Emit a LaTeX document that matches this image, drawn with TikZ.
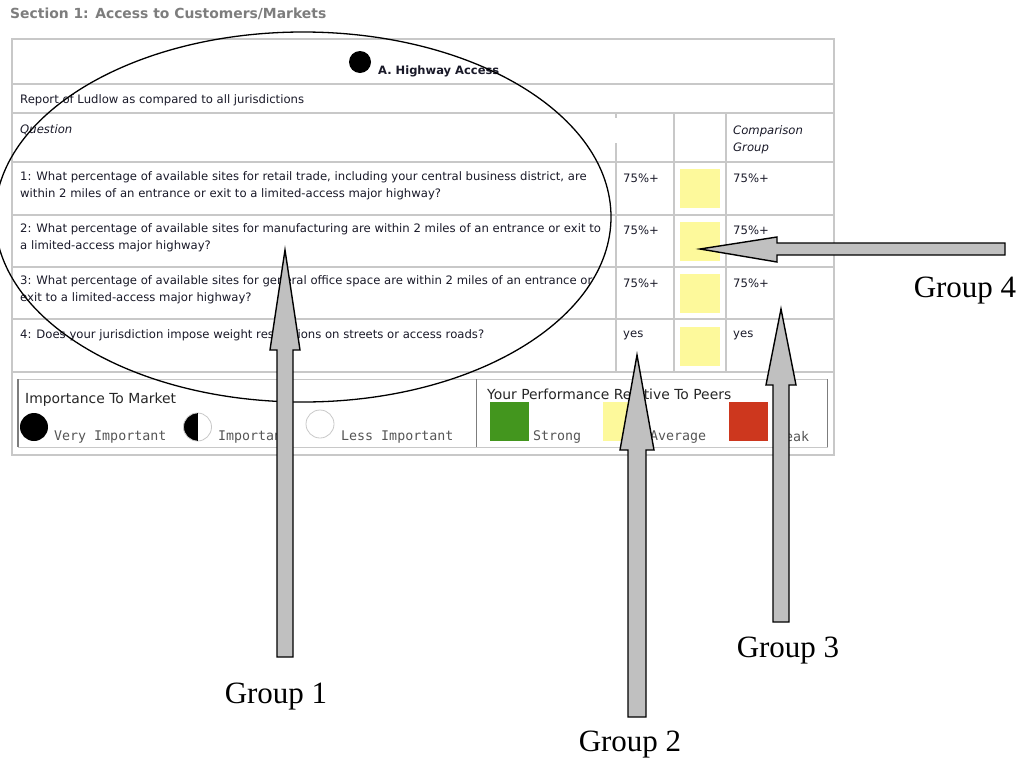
\documentclass[tikz,border=0pt]{standalone}
\usepackage{fontspec}
\setmainfont{DejaVu Sans}
\newfontfamily\grpfont{Liberation Serif}
\newfontfamily\legfont{DejaVu Sans Mono}
\usepackage{tikz}
\usetikzlibrary{positioning}

\definecolor{gridgray}{RGB}{200,200,200}
\definecolor{legline}{RGB}{125,125,125}
\definecolor{avgyellow}{RGB}{253,249,155}
\definecolor{stronggreen}{RGB}{67,150,30}
\definecolor{weakred}{RGB}{205,55,30}
\definecolor{arrowgray}{RGB}{192,192,192}
\definecolor{titlegray}{RGB}{125,125,125}
\definecolor{inktext}{RGB}{25,25,40}
\definecolor{legtext}{RGB}{85,85,85}

\begin{document}
\begin{tikzpicture}[x=1pt, y=-1pt,
    grid/.style={draw=gridgray, line width=1.5pt},
    txt/.style={anchor=west, inner sep=0pt, align=left, text=inktext, font=\fontsize{11.65}{17}\selectfont},
    itxt/.style={txt, font=\fontsize{11.65}{17}\selectfont\itshape},
    legtxt/.style={anchor=west, inner sep=0pt, text=legtext, font=\legfont\fontsize{13.3}{15}\selectfont},
    legtitle/.style={anchor=west, inner sep=0pt, text=black!85, font=\fontsize{13.9}{15}\selectfont},
    swatch/.style={minimum width=39pt, minimum height=39pt, inner sep=0pt},
    grp/.style={inner sep=0pt, font=\grpfont\fontsize{31}{31}\selectfont},
    blockarrow/.style={fill=arrowgray, draw=black, line width=1.4pt, line join=miter}]
    \useasboundingbox (0,0) rectangle (1023,761);

    % title
    \node[anchor=west, inner sep=0pt, text=titlegray, font=\fontsize{13.9}{15}\selectfont\bfseries] at (10,14) (title) {Section 1: Access to Customers/Markets};

    % table grid
    \draw[grid] (12,39) rectangle (834,455);
    \foreach \y in {84, 113, 162, 215, 267, 319, 372}
        \draw[grid] (12,\y) -- (834,\y);
    \draw[grid] (616,143) -- (616,372);
    \draw[grid] (616,113) -- (616,118);
    \draw[grid] (674,113) -- (674,372);
    \draw[grid] (726,113) -- (726,372);

    % header
    \fill[black] (360,62) circle (11pt);
    \node[anchor=west, inner sep=0pt, text=inktext, font=\fontsize{11.5}{13}\selectfont\bfseries] at (378,71) (head) {A. Highway Access};
    \node[txt] at (20,100) (report) {Report of Ludlow as compared to all jurisdictions};
    \node[itxt] at (20,130) (quest) {Question};
    \node[itxt] at (733,139.5) (comp) {Comparison\\Group};

    % questions
    \node[txt] at (20,185.5) (q1) {1: What percentage of available sites for retail trade, including your central business district, are\\within 2 miles of an entrance or exit to a limited-access major highway?};
    \node[txt] at (20,237.5) (q2) {2: What percentage of available sites for manufacturing are within 2 miles of an entrance or exit to\\a limited-access major highway?};
    \node[txt] at (20,289.5) (q3) {3: What percentage of available sites for general office space are within 2 miles of an entrance or\\exit to a limited-access major highway?};
    \node[txt] at (20,335) (q4) {4: Does your jurisdiction impose weight restrictions on streets or access roads?};

    % answers
    \node[txt] at (623,178) (a1) {75\%+};
    \node[txt] at (623,230) (a2) {75\%+};
    \node[txt] at (623,283) (a3) {75\%+};
    \node[txt] at (623,335) (a4) {yes};
    \node[fill=avgyellow, minimum width=40pt, minimum height=39pt, inner sep=0pt] at (700,188.5) (y1) {};
    \node[fill=avgyellow, minimum width=40pt, minimum height=39pt, inner sep=0pt] at (700,241) (y2) {};
    \node[fill=avgyellow, minimum width=40pt, minimum height=39pt, inner sep=0pt] at (700,293.5) (y3) {};
    \node[fill=avgyellow, minimum width=40pt, minimum height=39pt, inner sep=0pt] at (700,346) (y4) {};
    \node[txt] at (733,178) (c1) {75\%+};
    \node[txt] at (733,230) (c2) {75\%+};
    \node[txt] at (733,283) (c3) {75\%+};
    \node[txt] at (733,335) (c4) {yes};

    % legend
    \draw[draw=gridgray, line width=1pt] (18,379) rectangle (827,447);
    \draw[draw=legline, line width=1.2pt] (18,379) -- (18,447);
    \draw[draw=legline, line width=1pt] (476,379) -- (476,447);
    \draw[draw=legline, line width=1pt] (827,379) -- (827,447);
    \node[legtitle] at (25,400) (imp) {Importance To Market};
    \fill[black] (34,427) circle (14pt);
    \node[legtxt] at (54,437) (vimp) {Very Important};
    \fill[black] (197.5,413) arc (90:270:14pt) -- cycle;
    \draw[draw=gridgray, line width=0.8pt] (197.5,427) circle (14pt);
    \draw[black, line width=0.8pt] (197.5,413) -- (197.5,441);
    \node[legtxt] at (218,437) (mimp) {Important};
    \draw[draw=gridgray, line width=0.8pt] (320,424) circle (14pt);
    \node[legtxt] at (341,437) (limp) {Less Important};

    \node[legtitle] at (487,394) (perf) {Your Performance Relative To Peers};
    \node[swatch, fill=stronggreen] at (509,421.5) (sg) {};
    \node[legtxt] at (533,437) (strong) {Strong};
    \node[swatch, fill=avgyellow] at (622,421.5) (sy) {};
    \node[legtxt] at (650,437) (avg) {Average};
    \node[swatch, fill=weakred] at (748,421.5) (sr) {};
    \node[legtxt] at (777,437) (weak) {Weak};

    % group 1 ellipse
    \draw[black, line width=1.3pt] (303,217) ellipse (308pt and 185pt);

    % block arrows
    \draw[blockarrow] (285,250) -- (300,350) -- (293,350) -- (293,657) -- (277,657) -- (277,350) -- (270,350) -- cycle;
    \draw[blockarrow] (637,355) -- (654,450) -- (646,450) -- (646,717) -- (628,717) -- (628,450) -- (620,450) -- cycle;
    \draw[blockarrow] (781,309) -- (796,385) -- (789,385) -- (789,622) -- (773,622) -- (773,385) -- (766,385) -- cycle;
    \draw[blockarrow] (700,249) -- (777,237) -- (777,243) -- (1005,243) -- (1005,255) -- (777,255) -- (777,262) -- cycle;

    % labels
    \node[grp] at (276,697) (grp1) {Group 1};
    \node[grp] at (630,745) (grp2) {Group 2};
    \node[grp] at (788,651) (grp3) {Group 3};
    \node[grp] at (965,291) (grp4) {Group 4};
\end{tikzpicture}
\end{document}
